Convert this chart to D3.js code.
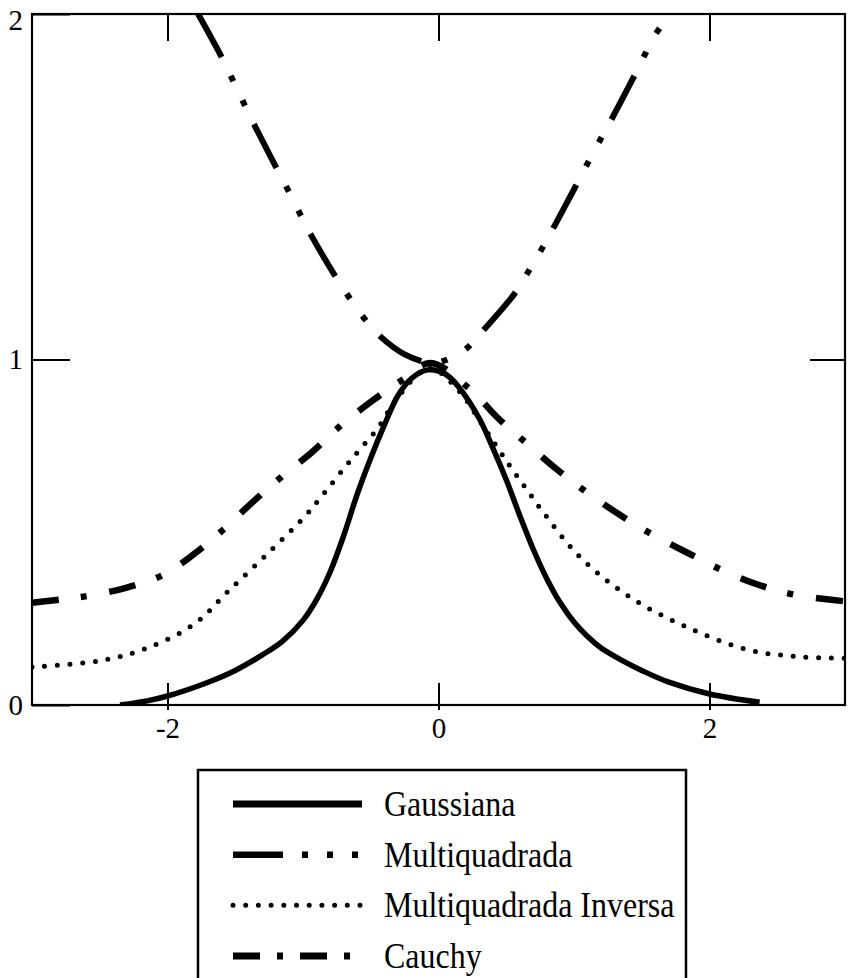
<!DOCTYPE html>
<html>
<head>
<meta charset="utf-8">
<script src="https://cdn.jsdelivr.net/npm/d3@7"></script>
<style>
  html, body { margin: 0; padding: 0; background: #fff; }
  svg { display: block; font-family: "Liberation Serif", "Times New Roman", serif; }
</style>
</head>
<body>
<svg id="chart" width="848" height="978"></svg>
<script>
// values
var xTicks = [-2, 0, 2];
var yTickLabels = [0, 1, 2];

var gaussX = [-2.35, -2.15, -2.0, -1.7, -1.5, -1.3, -1.15, -1.0, -0.9, -0.8, -0.7, -0.6, -0.5, -0.4, -0.3, -0.2, -0.08, 0.05, 0.15, 0.3, 0.4, 0.5, 0.6, 0.7, 0.8, 0.9, 1.0, 1.1, 1.2, 1.35, 1.5, 1.7, 2.0, 2.37];
var gaussY = [0.0, 0.012, 0.026, 0.066, 0.1, 0.145, 0.185, 0.245, 0.305, 0.385, 0.49, 0.61, 0.715, 0.81, 0.895, 0.945, 0.97, 0.958, 0.92, 0.83, 0.745, 0.652, 0.548, 0.45, 0.365, 0.295, 0.24, 0.198, 0.165, 0.13, 0.10, 0.066, 0.032, 0.008];

var multiX = [-1.774, -1.6, -1.52, -1.36, -1.19, -1.11, -1.02, -0.94, -0.76, -0.66, -0.55, -0.43, -0.25, -0.06, 0.03, 0.2, 0.32, 0.56, 0.65, 0.74, 0.84, 1.01, 1.09, 1.18, 1.27, 1.44, 1.52, 1.6, 1.71];
var multiY = [2.0, 1.875, 1.81, 1.68, 1.55, 1.49, 1.42, 1.36, 1.24, 1.18, 1.12, 1.067, 1.015, 0.99, 0.995, 1.03, 1.08, 1.19, 1.246, 1.305, 1.375, 1.5, 1.56, 1.626, 1.69, 1.817, 1.88, 1.94, 2.0];

var invX = [-3, -2.5, -2.15, -1.8, -1.55, -1.27, -1.0, -0.85, -0.7, -0.58, -0.45, -0.3, -0.07, 0.15, 0.3, 0.42, 0.53, 0.64, 0.75, 1.04, 1.41, 1.83, 2.28, 2.65, 3.0];
var invY = [0.11, 0.128, 0.165, 0.235, 0.33, 0.435, 0.54, 0.61, 0.684, 0.74, 0.80, 0.89, 0.975, 0.91, 0.825, 0.754, 0.69, 0.63, 0.57, 0.43, 0.313, 0.226, 0.16, 0.14, 0.135];

var cauchyX = [-3, -2.6, -2.3, -2.03, -1.81, -1.59, -1.37, -1.16, -0.93, -0.73, -0.49, -0.27, -0.06, 0.23, 0.44, 0.66, 0.88, 1.1, 1.34, 1.58, 1.84, 2.1, 2.36, 2.63, 3.0];
var cauchyY = [0.296, 0.315, 0.34, 0.377, 0.435, 0.507, 0.588, 0.66, 0.733, 0.806, 0.88, 0.94, 0.99, 0.915, 0.83, 0.754, 0.68, 0.614, 0.55, 0.493, 0.44, 0.389, 0.348, 0.319, 0.30];

var legendLabels = ["Gaussiana", "Multiquadrada", "Multiquadrada Inversa", "Cauchy"];

// line styles (curve and legend sample)
var styles = [
	{ width: 5.5, legendWidth: 7, dash: null, legendDash: null, cap: "butt" },
	{ width: 6, legendWidth: 6.5, dash: "49 21 6 21 6 20.5", legendDash: "50 19 6 19 6 19 6 40", cap: "butt" },
	{ width: 5, legendWidth: 5, dash: "0 12.7", legendDash: "0 12.7", cap: "round" },
	{ width: 6.5, legendWidth: 7, dash: "27 22 6 23", legendDash: "27 17 6 17", cap: "butt" }
];

var series = [
	gaussX.map(function (d, i) { return [d, gaussY[i]]; }),
	multiX.map(function (d, i) { return [d, multiY[i]]; }),
	invX.map(function (d, i) { return [d, invY[i]]; }),
	cauchyX.map(function (d, i) { return [d, cauchyY[i]]; })
];

var plot = { left: 32, right: 845, top: 14, bottom: 705 };

var x = d3.scaleLinear().domain([-3, 3]).range([plot.left, plot.right]);
var y = d3.scaleLinear().domain([0, 2]).range([plot.bottom, plot.top]);

var svg = d3.select("#chart");

svg.append("defs").append("clipPath")
	.attr("id", "plotclip")
	.append("rect")
	.attr("x", plot.left)
	.attr("y", plot.top)
	.attr("width", plot.right - plot.left)
	.attr("height", plot.bottom - plot.top);

// curves
var line = d3.line()
	.x(function (d) { return x(d[0]); })
	.y(function (d) { return y(d[1]); })
	.curve(d3.curveCatmullRom.alpha(0.5));

svg.append("g")
	.attr("clip-path", "url(#plotclip)")
	.selectAll("path")
	.data(series)
	.enter().append("path")
	.attr("d", line)
	.attr("fill", "none")
	.attr("stroke", "#000")
	.attr("stroke-width", function (d, i) { return styles[i].width; })
	.attr("stroke-dasharray", function (d, i) { return styles[i].dash; })
	.attr("stroke-linecap", function (d, i) { return styles[i].cap; })
	.attr("stroke-linejoin", "round");

// axes: ticks inside the frame
function styleAxis(g) {
	g.select(".domain").remove();
	g.selectAll(".tick line").attr("stroke", "#000").attr("stroke-width", 2);
	g.selectAll(".tick text")
		.attr("fill", "#000")
		.attr("font-family", "'Liberation Serif', 'Times New Roman', serif")
		.attr("font-size", 29);
}
var plainNum = function (d) { return String(d); };

svg.append("g")
	.attr("transform", "translate(0," + plot.bottom + ")")
	.call(d3.axisBottom(x).tickValues(xTicks).tickSize(-22).tickPadding(12).tickFormat(plainNum))
	.call(styleAxis);

svg.append("g")
	.attr("transform", "translate(0," + plot.bottom + ")")
	.call(d3.axisBottom(x).tickValues(xTicks).tickSize(5).tickFormat(""))
	.call(styleAxis);

svg.append("g")
	.attr("transform", "translate(0," + plot.top + ")")
	.call(d3.axisTop(x).tickValues(xTicks).tickSize(-27).tickFormat(""))
	.call(styleAxis);

var yAxisG = svg.append("g")
	.attr("transform", "translate(" + plot.left + ",0)")
	.call(d3.axisLeft(y).tickValues(yTickLabels).tickSize(-38).tickPadding(9).tickFormat(plainNum))
	.call(styleAxis);

// the top label sits a bit below the frame line in the original
yAxisG.selectAll(".tick text")
	.filter(function (d) { return d === 2; })
	.attr("y", 6);

svg.append("g")
	.attr("transform", "translate(" + plot.right + ",0)")
	.call(d3.axisRight(y).tickValues([1]).tickSize(-35).tickFormat(""))
	.call(styleAxis);

// frame
svg.append("rect")
	.attr("x", plot.left)
	.attr("y", plot.top)
	.attr("width", plot.right - plot.left)
	.attr("height", plot.bottom - plot.top)
	.attr("fill", "none")
	.attr("stroke", "#000")
	.attr("stroke-width", 2.2);

// legend
var legendBox = { left: 198, right: 686, top: 770, bottom: 995 };
svg.append("rect")
	.attr("x", legendBox.left)
	.attr("y", legendBox.top)
	.attr("width", legendBox.right - legendBox.left)
	.attr("height", legendBox.bottom - legendBox.top)
	.attr("fill", "none")
	.attr("stroke", "#000")
	.attr("stroke-width", 2.5);

var rowY = d3.scalePoint().domain(d3.range(legendLabels.length)).range([804, 956]);

var item = svg.append("g").selectAll("g")
	.data(legendLabels)
	.enter().append("g")
	.attr("transform", function (d, i) { return "translate(0," + rowY(i) + ")"; });

item.append("line")
	.attr("x1", 233)
	.attr("x2", 362)
	.attr("stroke", "#000")
	.attr("stroke-width", function (d, i) { return styles[i].legendWidth; })
	.attr("stroke-dasharray", function (d, i) { return styles[i].legendDash; })
	.attr("stroke-linecap", function (d, i) { return styles[i].cap; });

// scanned type is a little taller than it is wide
item.append("text")
	.attr("transform", "translate(384,12) scale(1,1.12)")
	.style("font-size", "32px")
	.text(function (d) { return d; });
</script>
</body>
</html>
